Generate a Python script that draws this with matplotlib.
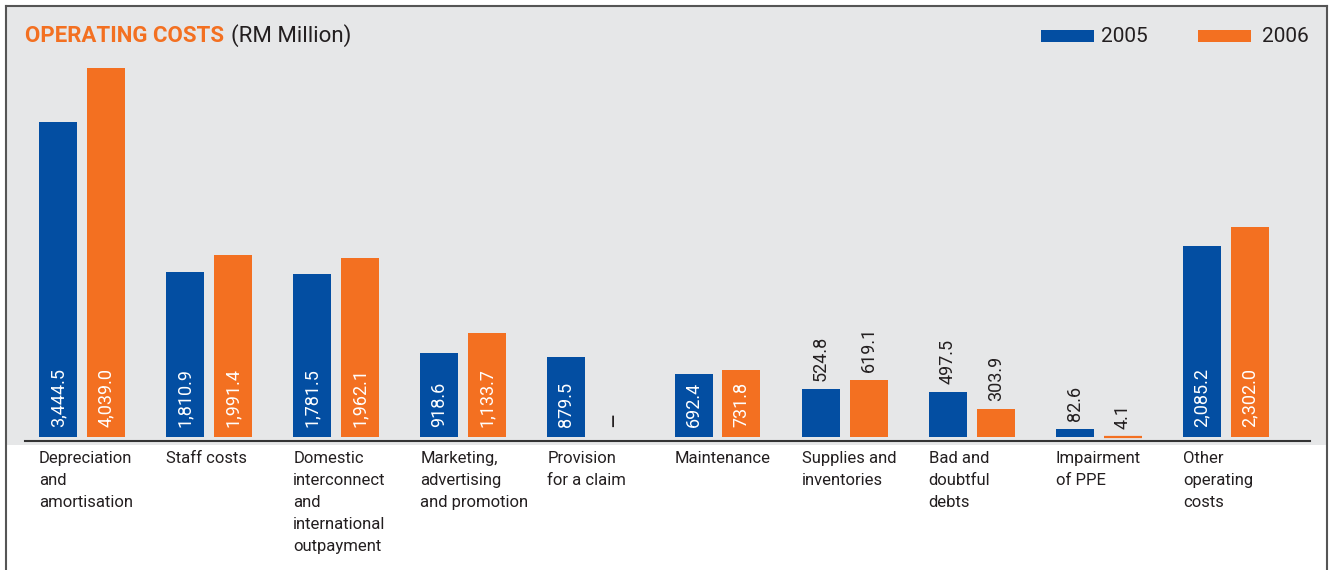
import matplotlib
matplotlib.use('Agg')
import matplotlib.pyplot as plt
from matplotlib.patches import Rectangle
from matplotlib.lines import Line2D
import numpy as np

categories = [
    'Depreciation\nand\namortisation',
    'Staff costs',
    'Domestic\ninterconnect\nand\ninternational\noutpayment',
    'Marketing,\nadvertising\nand promotion',
    'Provision\nfor a claim',
    'Maintenance',
    'Supplies and\ninventories',
    'Bad and\ndoubtful\ndebts',
    'Impairment\nof PPE',
    'Other\noperating\ncosts',
]
costs_2005 = [3444.5, 1810.9, 1781.5, 918.6, 879.5, 692.4, 524.8, 497.5, 82.6, 2085.2]
costs_2006 = [4039.0, 1991.4, 1962.1, 1133.7, 0.0, 731.8, 619.1, 303.9, 4.1, 2302.0]
labels_2005 = ['3,444.5', '1,810.9', '1,781.5', '918.6', '879.5', '692.4', '524.8', '497.5', '82.6', '2,085.2']
labels_2006 = ['4,039.0', '1,991.4', '1,962.1', '1,133.7', '–', '731.8', '619.1', '303.9', '4.1', '2,302.0']

BLUE = '#034ea2'
ORANGE = '#f37021'
GREY_BG = '#e6e7e8'
DARK = '#231f20'

plt.rcParams['font.family'] = ['Roboto', 'DejaVu Sans']

W, H = 1331, 570
fig = plt.figure(figsize=(W / 100, H / 100), dpi=100)
fig.patch.set_facecolor('white')


def fx(x):
    return x / W


def fy(y):
    return 1 - y / H


# panel background and frame
fig.patches.append(Rectangle((fx(6), fy(445)), fx(1322), 445 / H - 6 / H,
                             transform=fig.transFigure, facecolor=GREY_BG,
                             edgecolor='none', zorder=-10))
for xs, ys in [((6, 6), (6, 570)), ((6, 1327), (6, 6)), ((1327, 1327), (6, 570))]:
    fig.lines.append(Line2D([fx(v) for v in xs], [fy(v) for v in ys],
                            transform=fig.transFigure, color='#555555', lw=1.5))

# axes: y = 0 sits just above the baseline, x in group units
step = 127.1
ax_left, ax_right, ax_top, ax_bot = 25, 1310, 50, 441
ax = fig.add_axes([fx(ax_left), fy(ax_bot), (ax_right - ax_left) / W, (ax_bot - ax_top) / H])
ax.set_facecolor('none')
px_per_unit = 369 / 4039.0
y0 = -(ax_bot - 437) / px_per_unit
ax.set_ylim(y0, y0 + (ax_bot - ax_top) / px_per_unit)
x0 = (ax_left - 82) / step
ax.set_xlim(x0, x0 + (ax_right - ax_left) / step)
for s in ax.spines.values():
    s.set_visible(False)
ax.spines['bottom'].set_visible(True)
ax.spines['bottom'].set_position(('data', y0))
ax.spines['bottom'].set_color('#333333')
ax.spines['bottom'].set_linewidth(1.5)
ax.set_xticks([])
ax.set_yticks([])

x = np.arange(len(categories))
bw = 38 / step
off = 24 / step
bars = list(ax.bar(x - off, costs_2005, bw, color=BLUE)) + \
    list(ax.bar(x + off, costs_2006, bw, color=ORANGE))
# keep near-zero (but non-zero) bars visible as a thin strip
for b in bars:
    if 0 < b.get_height() * px_per_unit < 3:
        b.set_edgecolor(b.get_facecolor())
        b.set_linewidth(1.6)

inside_pad = 10 / px_per_unit
above_pad = 8 / px_per_unit
for xs, vals, labs in [(x - off, costs_2005, labels_2005), (x + off, costs_2006, labels_2006)]:
    for xi, v, lab in zip(xs, vals, labs):
        if v > 650:
            ax.text(xi, inside_pad, lab, rotation=90, ha='center', va='bottom',
                    color='white', fontsize=13)
        elif lab == '–':
            # nil amount: a dash at the label position
            ax.text(xi, inside_pad, lab, rotation=90, ha='center', va='bottom',
                    color=DARK, fontsize=17)
        else:
            ax.text(xi, v + above_pad, lab, rotation=90,
                    ha='center', va='bottom', color=DARK, fontsize=13)

# category names under the baseline
trans = ax.get_xaxis_transform()
for xi, name in zip(x, categories):
    ax.text(xi - off - bw / 2, -(451 - ax_bot) / (ax_bot - ax_top), name,
            transform=trans, ha='left', va='top', fontsize=12,
            color=DARK, linespacing=1.58)

# title
fig.text(fx(25), fy(36), 'OPERATING COSTS', color=ORANGE, fontsize=16,
         fontweight='bold', va='center', ha='left')
fig.text(fx(231), fy(36), '(RM Million)', color=DARK, fontsize=16,
         va='center', ha='left')

# legend
for lx, tx, col, lab in [(1041, 1101, BLUE, '2005'), (1198, 1262, ORANGE, '2006')]:
    fig.patches.append(Rectangle((fx(lx), fy(42)), 53 / W, 12 / H,
                                 transform=fig.transFigure, facecolor=col,
                                 edgecolor='none'))
    fig.text(fx(tx), fy(36), lab, color=DARK, fontsize=15,
             va='center', ha='left')

fig.savefig('out.png', dpi=100, facecolor=fig.get_facecolor())
